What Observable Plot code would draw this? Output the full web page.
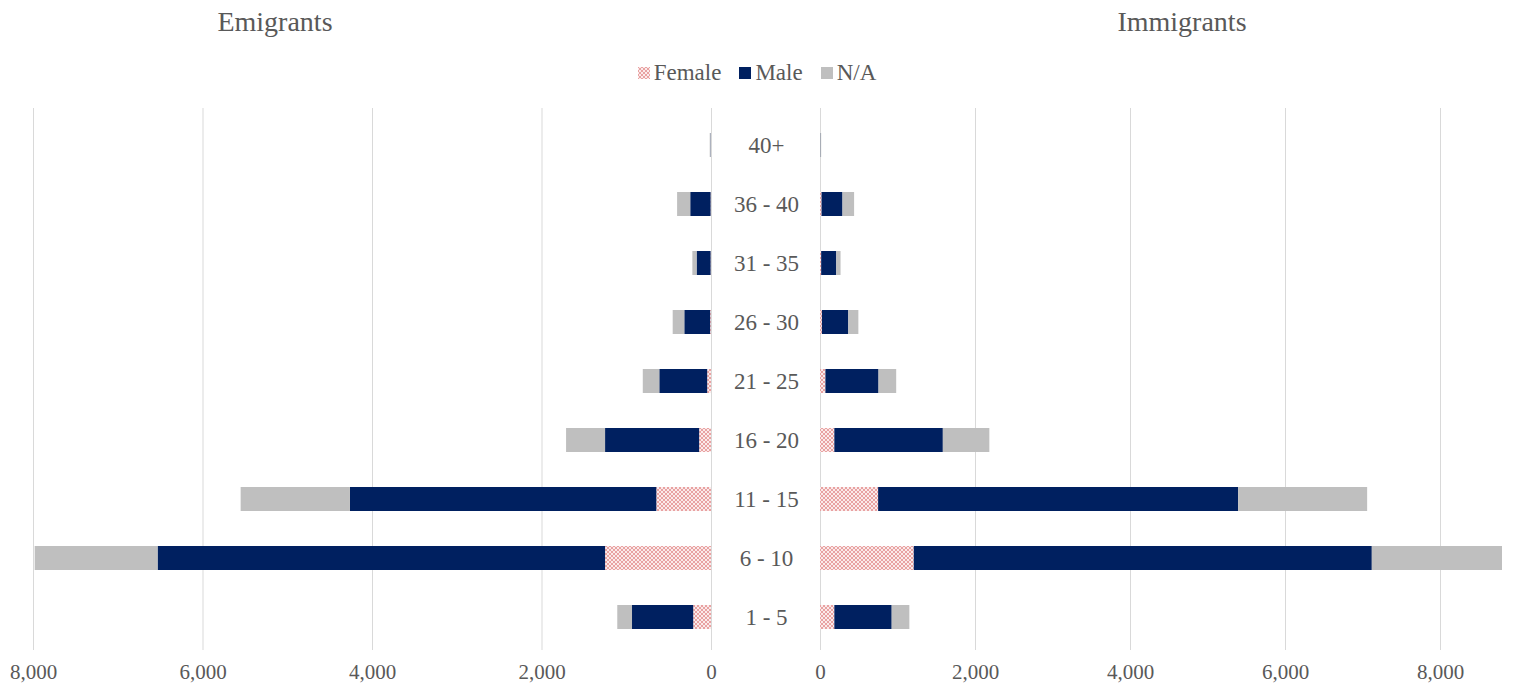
<!DOCTYPE html>
<html>
<head>
<meta charset="utf-8">
<script src="https://cdn.jsdelivr.net/npm/d3@7"></script>
<script src="https://cdn.jsdelivr.net/npm/@observablehq/plot@0.6"></script>
<style>
  body { margin: 0; background: white; }
  #wrap { position: relative; width: 1514px; height: 688px; font-family: "Liberation Serif", "Times New Roman", serif; color: #595959; }
  #header { position: relative; width: 1514px; height: 100px; }
  .title { position: absolute; top: 8px; font-size: 28px; line-height: 28px; transform: translateX(-50%); white-space: nowrap; }
  #legend { position: absolute; top: 61px; left: 0; width: 1514px; display: flex; justify-content: center; font-size: 23px; line-height: 23px; }
  .item { display: flex; align-items: center; margin: 0 9px; }
  .sw { width: 12px; height: 12px; margin-right: 4px; display: inline-block; }
  #charts { display: flex; width: 1514px; height: 588px; }
  #charts svg { overflow: visible; }
</style>
</head>
<body>
<div id="wrap">
  <div id="header">
    <div class="title" style="left:275px">Emigrants</div>
    <div class="title" style="left:1182px">Immigrants</div>
    <div id="legend"></div>
  </div>
  <div id="charts"></div>
</div>
<script>
// ---- data ----
const ages = ["40+", "36 - 40", "31 - 35", "26 - 30", "21 - 25", "16 - 20", "11 - 15", "6 - 10", "1 - 5"];
const series = ["Female", "Male", "N/A"];
const emigFemale = [0, 5, 5, 10, 45, 140, 645, 1250, 210];
const emigMale   = [5, 240, 165, 305, 565, 1110, 3615, 5280, 722];
const emigNA     = [10, 155, 50, 137, 195, 460, 1290, 1450, 174];
const immFemale  = [0, 20, 15, 25, 70, 185, 750, 1210, 185];
const immMale    = [5, 270, 195, 340, 685, 1400, 4645, 5910, 740];
const immNA      = [10, 150, 55, 130, 228, 600, 1665, 1680, 228];
const emigTicks = [0, 2000, 4000, 6000, 8000];
const immTicks  = [0, 2000, 4000, 6000, 8000];

const textColor = "#595959";
const colors = ["url(#hatchF)", "#002060", "#BFBFBF"];
const font = "Liberation Serif, Times New Roman, serif";

function rows(f, m, n) {
  const out = [];
  [f, m, n].forEach((arr, si) => arr.forEach((v, i) => out.push({age: ages[i], sex: series[si], value: v})));
  return out;
}

function addPattern(svg, id) {
  const ns = "http://www.w3.org/2000/svg";
  const defs = document.createElementNS(ns, "defs");
  defs.innerHTML = `<pattern id="${id}" width="4" height="4" patternUnits="userSpaceOnUse">
    <rect width="4" height="4" fill="#fbeaea"/>
    <path d="M0,0 L4,4 M4,0 L0,4" stroke="#e59a9a" stroke-width="0.9"/>
  </pattern>`;
  svg.insertBefore(defs, svg.firstChild);
}

const common = {
  height: 588,
  marginTop: 12,
  marginBottom: 38,
  style: {fontFamily: font, fontSize: "21px", color: textColor, background: "transparent", overflow: "visible"},
  y: {domain: ages, paddingInner: 0.6, paddingOuter: 0.3, axis: null},
  color: {domain: series, range: colors}
};

const left = Plot.plot({
  ...common,
  width: 766,
  marginLeft: 33,
  marginRight: 55,
  x: {domain: [0, 8000], reverse: true, axis: null},
  marks: [
    Plot.ruleX(emigTicks, {stroke: "#D9D9D9", strokeWidth: 1, insetTop: -4}),
    Plot.barX(rows(emigFemale, emigMale, emigNA), {x: "value", y: "age", fill: "sex"}),
    Plot.axisX({ticks: emigTicks, tickSize: 0, tickPadding: 14, tickFormat: d3.format(","), fill: textColor, fontSize: 21, label: null}),
    Plot.text(ages, {y: d => d, text: d => d, frameAnchor: "right", dx: 55, textAnchor: "middle", fill: textColor, fontSize: 23})
  ]
});
addPattern(left, "hatchF");

const right = Plot.plot({
  ...common,
  width: 748,
  marginLeft: 54,
  marginRight: 12,
  x: {domain: [0, 8800], axis: null},
  color: {domain: series, range: ["url(#hatchF2)", colors[1], colors[2]]},
  marks: [
    Plot.ruleX(immTicks, {stroke: "#D9D9D9", strokeWidth: 1, insetTop: -4}),
    Plot.barX(rows(immFemale, immMale, immNA), {x: "value", y: "age", fill: "sex"}),
    Plot.axisX({ticks: immTicks, tickSize: 0, tickPadding: 14, tickFormat: d3.format(","), fill: textColor, fontSize: 21, label: null})
  ]
});
addPattern(right, "hatchF2");

document.getElementById("charts").append(left, right);

// legend
const legend = document.getElementById("legend");
series.forEach((s, i) => {
  const item = document.createElement("div");
  item.className = "item";
  let sw;
  if (i === 0) {
    sw = `<svg class="sw" width="12" height="12"><defs><pattern id="hatchL" width="4" height="4" patternUnits="userSpaceOnUse"><rect width="4" height="4" fill="#fbeaea"/><path d="M0,0 L4,4 M4,0 L0,4" stroke="#e59a9a" stroke-width="0.9"/></pattern></defs><rect width="12" height="12" fill="url(#hatchL)"/></svg>`;
  } else {
    sw = `<span class="sw" style="background:${colors[i]}"></span>`;
  }
  item.innerHTML = sw + `<span>${s}</span>`;
  legend.append(item);
});
</script>
</body>
</html>
